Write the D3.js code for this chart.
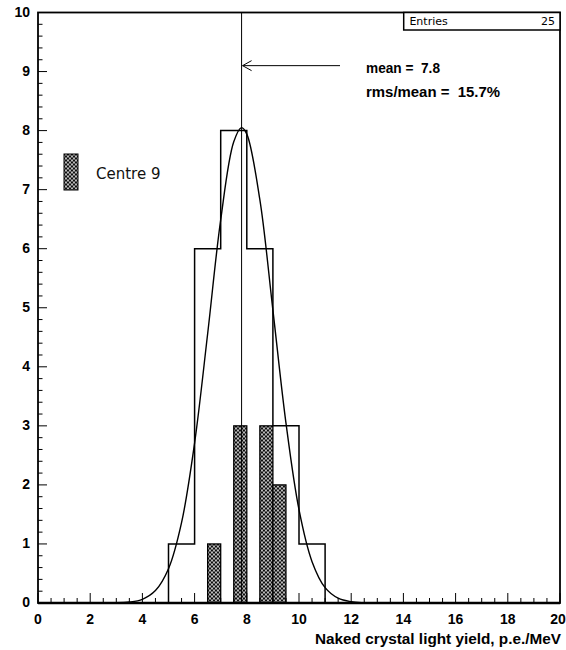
<!DOCTYPE html>
<html>
<head>
<meta charset="utf-8">
<script src="https://cdn.jsdelivr.net/npm/d3@7"></script>
<style>
  body { margin: 0; background: #fff; }
  svg { display: block; }
  text { white-space: pre; }
</style>
</head>
<body>
<script>
// all crystals, bins of width 1
let allEdges = [5, 6, 7, 8, 9, 10, 11];
let allCounts = [1, 6, 8, 6, 3, 1];

// Centre 9 crystals, bins of width 0.5
let centreLo = [6.5, 7.5, 8.5, 9.0];
let centreCounts = [1, 3, 3, 2];
let centreWidth = 0.5;

// fitted gaussian
let fitX = [3, 3.5, 4, 4.5, 5, 5.5, 6, 6.5, 7, 7.5, 7.8, 8, 8.5, 9, 9.5, 10, 10.5, 11, 11.5, 12, 12.5, 13];
let fitY = [0.004, 0.016, 0.063, 0.21, 0.58, 1.36, 2.71, 4.56, 6.49, 7.81, 8.05, 7.94, 6.83, 4.96, 3.05, 1.58, 0.70, 0.26, 0.081, 0.021, 0.005, 0.001];

let meanValue = 7.8;
let entries = 25;
let xTicks = [0, 2, 4, 6, 8, 10, 12, 14, 16, 18, 20];
let yTicks = [0, 1, 2, 3, 4, 5, 6, 7, 8, 9, 10];

let svgSize = { w: 566, h: 650 };
let margin = { top: 12.5, right: 6, bottom: 47, left: 38 };
let w = svgSize.w - margin.left - margin.right;
let h = svgSize.h - margin.top - margin.bottom;

let svg = d3.select("body").append("svg")
  .attr("width", svgSize.w)
  .attr("height", svgSize.h);

let defs = svg.append("defs");
let pat = defs.append("pattern")
  .attr("id", "hatch")
  .attr("patternUnits", "userSpaceOnUse")
  .attr("width", 4)
  .attr("height", 4);
pat.append("rect").attr("width", 4).attr("height", 4).attr("fill", "#fff");
pat.append("path")
  .attr("d", "M0,0 L4,4 M4,0 L0,4 M-1,3 L1,5 M3,-1 L5,1 M-1,1 L1,-1 M3,5 L5,3")
  .attr("stroke", "#000")
  .attr("stroke-width", 1.05);

let x = d3.scaleLinear().domain([0, 20]).range([0, w]);
let y = d3.scaleLinear().domain([0, 10]).range([h, 0]);

let grp = svg.append("g").attr("transform", `translate(${margin.left},${margin.top})`);

// hatched Centre 9 bars
grp.append("g").attr("class", "centre")
  .selectAll("rect")
  .data(centreLo)
  .enter()
  .append("rect")
  .attr("x", d => x(d))
  .attr("width", d => x(d + centreWidth) - x(d))
  .attr("y", (d, i) => y(centreCounts[i]))
  .attr("height", (d, i) => y(0) - y(centreCounts[i]))
  .attr("fill", "url(#hatch)")
  .attr("stroke", "#000")
  .attr("stroke-width", 1.3);

// outline histogram as steps
let steps = [[allEdges[0], 0]];
allCounts.forEach((c, i) => {
  steps.push([allEdges[i], c]);
  steps.push([allEdges[i + 1], c]);
});
steps.push([allEdges[allEdges.length - 1], 0]);
grp.append("path")
  .attr("d", d3.line().x(d => x(d[0])).y(d => y(d[1]))(steps))
  .attr("fill", "none")
  .attr("stroke", "#000")
  .attr("stroke-width", 1.5);

// fit curve
grp.append("path")
  .attr("d", d3.line()
    .x((d, i) => x(fitX[i]))
    .y(d => y(d))
    .curve(d3.curveCatmullRom)(fitY))
  .attr("fill", "none")
  .attr("stroke", "#000")
  .attr("stroke-width", 1.4);

// mean line
grp.append("line")
  .attr("x1", x(meanValue)).attr("x2", x(meanValue))
  .attr("y1", 0).attr("y2", h)
  .attr("stroke", "#000")
  .attr("stroke-width", 1);

// arrow
let ay = y(9.1);
grp.append("line")
  .attr("x1", x(meanValue) + 1).attr("x2", 302)
  .attr("y1", ay).attr("y2", ay)
  .attr("stroke", "#000").attr("stroke-width", 1);
grp.append("path")
  .attr("d", `M${x(meanValue) + 10},${ay - 5} L${x(meanValue) + 1},${ay} L${x(meanValue) + 10},${ay + 5}`)
  .attr("fill", "none").attr("stroke", "#000").attr("stroke-width", 1);

let note = grp.append("g")
  .attr("font-family", "'Liberation Sans', Arial, sans-serif")
  .attr("font-weight", "bold")
  .attr("font-size", 14);
note.append("text").attr("x", 328).attr("y", 60.5)
  .attr("textLength", 74).attr("lengthAdjust", "spacingAndGlyphs")
  .text("mean =  7.8");
note.append("text").attr("x", 328).attr("y", 84.5)
  .attr("textLength", 134).attr("lengthAdjust", "spacingAndGlyphs")
  .text("rms/mean =  15.7%");

// legend
grp.append("rect")
  .attr("x", 26).attr("y", 141.5).attr("width", 14).attr("height", 36)
  .attr("fill", "url(#hatch)").attr("stroke", "#000").attr("stroke-width", 1);
grp.append("text")
  .attr("x", 58).attr("y", 166)
  .attr("font-family", "'DejaVu Sans', sans-serif")
  .attr("font-size", 15)
  .attr("fill", "#111")
  .text("Centre 9");

// axes ticks
let minorX = d3.range(0, 20.01, 0.5);
let minorY = d3.range(0, 10.01, 0.2);
grp.append("g").selectAll("line")
  .data(minorX)
  .enter().append("line")
  .attr("x1", d => x(d)).attr("x2", d => x(d))
  .attr("y1", h)
  .attr("y2", (d, i) => h - (i % 4 === 0 ? 10 : 5))
  .attr("stroke", "#000").attr("stroke-width", 1);
grp.append("g").selectAll("line")
  .data(minorY)
  .enter().append("line")
  .attr("y1", d => y(d)).attr("y2", d => y(d))
  .attr("x1", 0)
  .attr("x2", (d, i) => (i % 5 === 0 ? 9 : 4.5))
  .attr("stroke", "#000").attr("stroke-width", 1);

// frame
grp.append("rect")
  .attr("x", 0).attr("y", 0).attr("width", w).attr("height", h)
  .attr("fill", "none").attr("stroke", "#000").attr("stroke-width", 1.8);
grp.append("line")
  .attr("x1", 0).attr("x2", w).attr("y1", h).attr("y2", h)
  .attr("stroke", "#000").attr("stroke-width", 2.6);

// tick labels
let lab = grp.append("g")
  .attr("font-family", "'Liberation Sans', Arial, sans-serif")
  .attr("font-weight", "bold")
  .attr("font-size", 14);
lab.selectAll("text.xl")
  .data(xTicks).enter().append("text")
  .attr("class", "xl")
  .attr("x", d => x(d) - (d === 20 ? 2 : 0)).attr("y", h + 21)
  .attr("text-anchor", "middle")
  .text(d => d);
lab.selectAll("text.yl")
  .data(yTicks).enter().append("text")
  .attr("class", "yl")
  .attr("x", -8).attr("y", d => y(d) + 4)
  .attr("text-anchor", "end")
  .text(d => d);

grp.append("text")
  .attr("x", w + 1).attr("y", h + 41)
  .attr("text-anchor", "end")
  .attr("font-family", "'Liberation Sans', Arial, sans-serif")
  .attr("font-weight", "bold")
  .attr("font-size", 14)
  .attr("textLength", 246)
  .attr("lengthAdjust", "spacingAndGlyphs")
  .text("Naked crystal light yield, p.e./MeV");

// stats box
grp.append("rect")
  .attr("x", x(14.0) + 0.3).attr("y", 0).attr("width", w - x(14.0) - 0.3).attr("height", 17.5)
  .attr("fill", "#fff").attr("stroke", "#000").attr("stroke-width", 1.5);
let stat = grp.append("g")
  .attr("font-family", "'DejaVu Sans', sans-serif")
  .attr("font-size", 11)
  .attr("fill", "#000");
stat.append("text").attr("x", x(14.0) + 6).attr("y", 12.5).text("Entries");
stat.append("text").attr("x", w - 5).attr("y", 12.5).attr("text-anchor", "end").text(entries);
</script>
</body>
</html>
